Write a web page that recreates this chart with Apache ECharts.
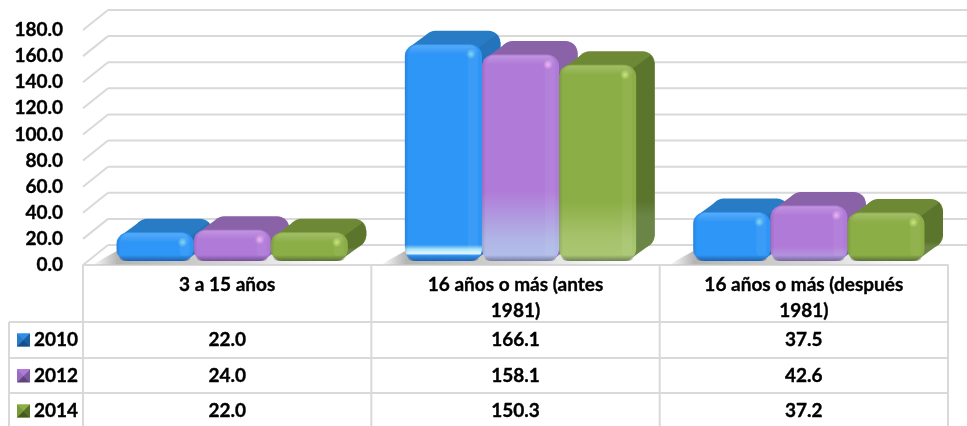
<!DOCTYPE html>
<html><head><meta charset="utf-8">
<script src="https://cdn.jsdelivr.net/npm/echarts@6/dist/echarts.min.js"></script>
<style>html,body{margin:0;padding:0;background:#fff}#c{width:967px;height:426px}</style>
</head><body><div id="c"></div>
<script>
var categories = ['3 a 15 años', '16 años o más (antes\n1981)', '16 años o más (después\n1981)'];
var years = ['2010', '2012', '2014'];
var values2010 = [22.0, 166.1, 37.5];
var values2012 = [24.0, 158.1, 42.6];
var values2014 = [22.0, 150.3, 37.2];
var yTicks = [0, 20, 40, 60, 80, 100, 120, 140, 160, 180];

var seriesValues = [values2010, values2012, values2014];
var FONT = 'Lato, Carlito, sans-serif';
var FS = 19;
var TEXT_EDGE = 0.35;
var GRID = {left: 83, right: 19, top: 30, bottom: 161};
var LINE = '#d9d9d9';
var WALL = {dx: 25, dy: 20};
var TABLE = {top: 265, rows: [322, 358, 393], rowText: [340, 376, 411], left: 9, bottom: 426};
var BAR = {ratio: 77 / 288, shift: 5, base: 4, dx: 18.5, dy: 13.5, r: 12};
var LG = echarts.graphic.LinearGradient;
var RG = echarts.graphic.RadialGradient;

var looks = [
  {front: '#2e96f6', top: '#287cc6', side: '#2573ba', sideLow: '#2573ba', glow: '#7fd8ee', key: ['#2f8fe8', '#2a7cc8', '#1d5f9f', '#174f86'],
   tall: [[0.925, '#2e96f6'], [0.945, '#a8e2f8'], [0.965, '#e4f7fb'], [0.975, '#2e96f6'], [1, '#2e96f6']], mid: null},
  {front: '#b07ad8', top: '#8a62a8', side: '#8a62a8', sideLow: '#8a6cb0', glow: '#f0b4f2', key: ['#b07ad8', '#9a6cc0', '#7a5a98', '#5f4678'],
   tall: [[0.66, '#b07ad8'], [0.9, '#b0b6e6'], [1, '#b3c0ea']],
   mid: [[0.74, '#b07ad8'], [0.95, '#b49be0'], [1, '#b49be0']]},
  {front: '#8cae46', top: '#6e8936', side: '#5c752c', sideLow: '#6b8546', glow: '#c8e878', key: ['#8cae46', '#7a9a3c', '#56702a', '#445a20'],
   tall: [[0.7, '#8cae46'], [0.88, '#a6c36c'], [1, '#aac872']], mid: null}
];

function rect(x, y, w, h, r, fill, z2) {
  return {type: 'rect', shape: {x: x, y: y, width: w, height: h, r: r}, style: {fill: fill}, z2: z2 || 0, silent: true};
}
function poly(points, fill, z2) {
  return {type: 'polygon', shape: {points: points}, style: {fill: fill}, z2: z2 || 0, silent: true};
}
function seg(x1, y1, x2, y2, w) {
  return {type: 'line', shape: {x1: x1, y1: y1, x2: x2, y2: y2}, style: {stroke: LINE, lineWidth: w || 2, fill: null}, silent: true};
}

function renderBar(s) {
  return function (params, api) {
    var look = looks[s];
    var cat = api.value(0), val = api.value(1);
    var band = api.size([1, 0])[0];
    var w = band * BAR.ratio;
    var c = api.coord([cat, val]), o = api.coord([cat, 0]);
    var x0 = c[0] + BAR.shift + (s - 1.5) * w, x1 = x0 + w;
    var y0 = c[1] - BAR.base, y1 = o[1] - BAR.base;
    var h = y1 - y0, dx = BAR.dx, dy = BAR.dy, r = BAR.r, q = r * 0.3;
    var stops = [{offset: 0, color: look.front}];
    var low = val > 100 ? look.tall : (val > 30 ? look.mid : null);
    if (low) { low.forEach(function (p) { stops.push({offset: p[0], color: p[1]}); }); }
    else stops.push({offset: 1, color: look.front});
    var kids = [
      // depth: back silhouette, top face, right side
      rect(x0 + dx, y0 - dy, w, h, r, look.top),
      poly([[x0 + q, y0 + q], [x0 + dx + q, y0 - dy + q], [x1 + dx - q, y0 - dy + q], [x1 - q, y0 + q]], look.top),
      {type: 'polygon', shape: {points: [[x1 - q, y0 + q], [x1 + dx - q, y0 - dy + q], [x1 + dx, y0 - dy + r], [x1 + dx, y1 - dy - r], [x1 + dx - q, y1 - dy - q], [x1 - q, y1 - q]]},
       style: {fill: new LG(0, 0, 0, 1, [{offset: 0, color: look.side}, {offset: 0.72, color: look.side}, {offset: 0.8, color: look.sideLow}, {offset: 1, color: look.sideLow}])}, silent: true},
      // front face and bevels
      rect(x0, y0, w, h, r, new LG(0, 0, 0, 1, stops), 1),
      rect(x0 + 4, y0 + 1, w - 8, 9, [8, 8, 0, 0], new LG(0, 0, 0, 1, [{offset: 0, color: 'rgba(255,255,255,0.2)'}, {offset: 1, color: 'rgba(255,255,255,0)'}]), 2),
      rect(x1 - 14, y0 + 5, 10, h - 10, 4, 'rgba(255,255,255,0.06)', 2),
      rect(x0, y0 + 6, 4, h - 12, 2, new LG(0, 0, 1, 0, [{offset: 0, color: 'rgba(0,0,40,0.12)'}, {offset: 1, color: 'rgba(0,0,40,0)'}]), 2),
      rect(x0 + 2, y1 - 6, w - 4, 6, [0, 0, 11, 11], new LG(0, 0, 0, 1, [{offset: 0, color: 'rgba(0,0,30,0)'}, {offset: 1, color: 'rgba(0,0,30,0.35)'}]), 2),
      {type: 'circle', shape: {cx: x1 - 11, cy: y0 + 10, r: 5},
       style: {fill: new RG(0.5, 0.5, 0.5, [{offset: 0, color: look.glow}, {offset: 1, color: look.glow + '00'}])}, z2: 3, silent: true}
    ];
    return {type: 'group', children: kids};
  };
}

function renderWall(params, api) {
  var v = api.value(0);
  var band = api.size([1, 0])[0];
  var a = api.coord([0, v]), z = api.coord([categories.length - 1, v]);
  var left = a[0] - band / 2, right = z[0] + band / 2;
  var kids = [
    seg(left, a[1], left + WALL.dx, a[1] - WALL.dy),
    seg(left + WALL.dx, a[1] - WALL.dy, right + WALL.dx, a[1] - WALL.dy)
  ];
  return {type: 'group', children: kids};
}

function renderShadow(params, api) {
  var band = api.size([1, 0])[0];
  var c = api.coord([api.value(0), 0]);
  var w = band * BAR.ratio * 3;
  var x0 = c[0] + BAR.shift - w / 2;
  return poly([[x0 - 24, c[1] - 0.5], [x0 + 2, c[1] - 15], [x0 + w - 2, c[1] - 15], [x0 + w - 8, c[1] - 0.5]],
    new LG(0, 0, 1, 0, [{offset: 0, color: 'rgba(140,140,140,0)'}, {offset: 0.1, color: 'rgba(140,140,140,0.65)'}, {offset: 0.6, color: 'rgba(185,185,185,0.55)'}, {offset: 1, color: 'rgba(215,215,215,0)'}]));
}

function renderTable(params, api) {
  var row = api.value(0);
  var band = api.size([1, 0])[0];
  var first = api.coord([0, 0])[0] - band / 2;
  var last = first + band * categories.length;
  var kids = [];
  if (row === 0) {
    for (var i = 0; i <= categories.length; i++) {
      kids.push(seg(first + band * i, TABLE.top, first + band * i, TABLE.bottom));
    }
    kids.push(seg(TABLE.left, TABLE.rows[0], TABLE.left, TABLE.bottom));
    TABLE.rows.forEach(function (y) { kids.push(seg(TABLE.left, y, last, y)); });
  }
  var y = TABLE.rowText[row];
  seriesValues[row].forEach(function (v, c) {
    kids.push({type: 'text', x: api.coord([c, 0])[0], y: y, silent: true,
      style: {text: v.toFixed(1), font: 'bold ' + FS + 'px ' + FONT, fill: '#000', stroke: '#000', lineWidth: TEXT_EDGE, align: 'center', verticalAlign: 'middle'}});
  });
  // legend key bevel
  var kx = 17, ky = y - 6.5, k = 13, col = looks[row].key, m = k / 2;
  kids.push(poly([[kx, ky], [kx + k, ky], [kx + m, ky + m]], col[0], 5));
  kids.push(poly([[kx, ky], [kx + m, ky + m], [kx, ky + k]], col[1], 5));
  kids.push(poly([[kx + k, ky], [kx + m, ky + m], [kx + k, ky + k]], col[2], 5));
  kids.push(poly([[kx, ky + k], [kx + m, ky + m], [kx + k, ky + k]], col[3], 5));
  return {type: 'group', children: kids};
}

var barSeries = years.map(function (y, s) {
  return {
    name: y, type: 'custom', coordinateSystem: 'cartesian2d', clip: false, z: 4,
    itemStyle: {color: looks[s].key[0]},
    encode: {x: 0, y: 1}, silent: true,
    data: seriesValues[s].map(function (v, i) { return [i, v]; }),
    renderItem: renderBar(s)
  };
});

var labelStyle = {color: '#000', fontFamily: FONT, fontWeight: 'bold', fontSize: FS, textBorderColor: '#000', textBorderWidth: TEXT_EDGE};

var chart = echarts.init(document.getElementById('c'), null, {renderer: 'canvas'});
chart.setOption({
  animation: false,
  backgroundColor: '#fff',
  tooltip: {show: false},
  grid: {left: GRID.left, right: GRID.right, top: GRID.top, bottom: GRID.bottom, containLabel: false},
  xAxis: {
    type: 'category', data: categories,
    axisLine: {show: true, lineStyle: {color: LINE, width: 2}},
    axisTick: {show: false},
    axisLabel: Object.assign({}, labelStyle, {lineHeight: 26, margin: 7, interval: 0, verticalAlign: 'top'})
  },
  yAxis: {
    type: 'value', min: 0, max: 180, interval: 20,
    axisLine: {show: false}, axisTick: {show: false}, splitLine: {show: false},
    axisLabel: Object.assign({}, labelStyle, {margin: 20, padding: [4, 0, 0, 0], formatter: function (v) { return v.toFixed(1); }})
  },
  legend: {
    data: years, orient: 'vertical', left: 17, top: 330, padding: 0, itemGap: 15.5, itemWidth: 13, itemHeight: 13,
    icon: 'rect', selectedMode: false, z: 3,
    textStyle: Object.assign({}, labelStyle, {lineHeight: 20, padding: [0, 0, 0, -1]})
  },
  series: [
    {name: 'wall', type: 'custom', coordinateSystem: 'cartesian2d', clip: false, z: 1, silent: true,
     encode: {y: 0}, data: yTicks.map(function (t) { return [t]; }), renderItem: renderWall},
    {name: 'shadow', type: 'custom', coordinateSystem: 'cartesian2d', clip: false, z: 2, silent: true,
     encode: {x: 0}, data: categories.map(function (c, i) { return [i]; }), renderItem: renderShadow},
    {name: 'table', type: 'custom', coordinateSystem: 'cartesian2d', clip: false, z: 5, silent: true,
     encode: {y: 0}, data: years.map(function (y, i) { return [i]; }), renderItem: renderTable}
  ].concat(barSeries)
});
</script></body></html>
